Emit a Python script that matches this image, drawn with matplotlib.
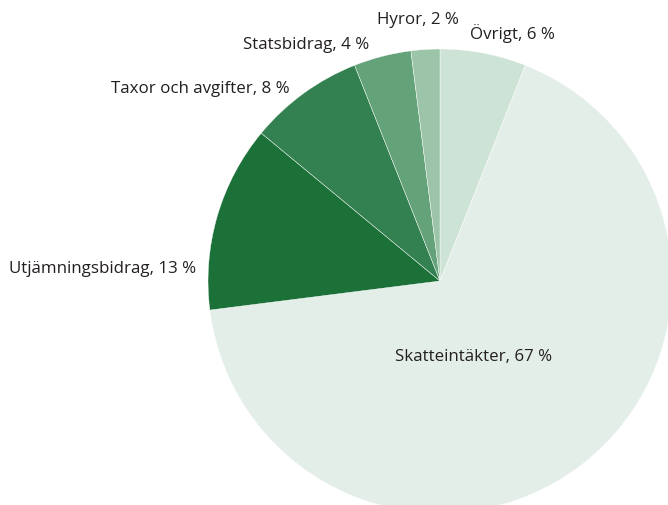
import matplotlib
matplotlib.use("Agg")
import matplotlib.pyplot as plt

labels = ["Övrigt", "Skatteintäkter", "Utjämningsbidrag", "Taxor och avgifter", "Statsbidrag", "Hyror"]
values = [6, 67, 13, 8, 4, 2]
colors = ["#cde3d5", "#e4eee8", "#1c7139", "#338150", "#64a27a", "#9bc4a8"]

# label anchor positions in pixel coordinates (x, y from top), and alignment
label_pos = [(470, 34, "left"), (395, 357, "left"), (196, 269, "right"),
             (290, 89, "right"), (306, 45, "center"), (459, 20, "right")]

W, H = 668, 506
fig = plt.figure(figsize=(W / 100, H / 100), dpi=100)
ax = fig.add_axes([0, 0, 1, 1])

cx, cy, r = 440, H - 282, 232
ax.pie(values, colors=colors, startangle=90, counterclock=False,
       center=(cx, cy), radius=r, frame=True,
       wedgeprops=dict(edgecolor="white", linewidth=0.3))
ax.set_xlim(0, W)
ax.set_ylim(0, H)
ax.set_aspect("equal")
ax.axis("off")

for lab, v, (x, y, ha) in zip(labels, values, label_pos):
    ax.text(x, H - y, f"{lab}, {v} %", ha=ha, va="center",
            fontsize=12.2, color="#231f20", family=["Open Sans", "DejaVu Sans"])

fig.savefig("out.png", dpi=100)
